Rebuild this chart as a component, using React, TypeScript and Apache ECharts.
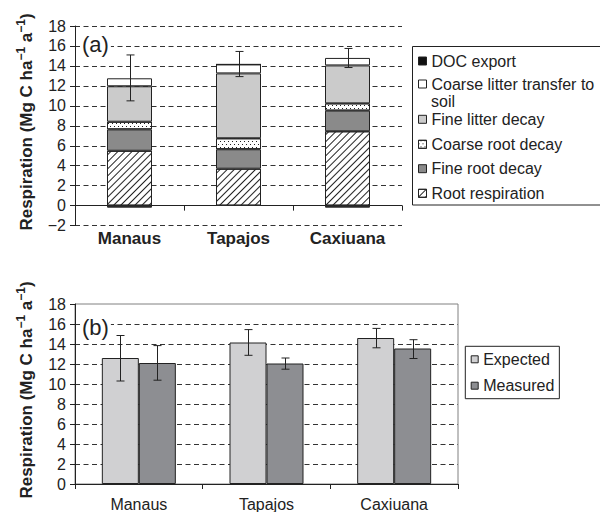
import React, { useEffect, useRef } from 'react';
import * as echarts from 'echarts';

// ---- Data: panel (a) partitioned respiration ----
const sites = ['Manaus', 'Tapajos', 'Caxiuana'];
const rootRespiration = [5.5, 3.7, 7.45];
const fineRootDecay = [2.14, 1.95, 2.07];
const coarseRootDecay = [0.77, 1.1, 0.73];
const fineLitterDecay = [3.55, 6.5, 3.8];
const coarseLitterTransfer = [0.8, 0.9, 0.75];
const docExport = [-0.2, 0, -0.2];
const totalLow = [10.5, 12.93, 13.84];
const totalHigh = [15.1, 15.45, 15.75];

// ---- Data: panel (b) expected vs measured ----
const expected = [12.6, 14.15, 14.6];
const measured = [12.1, 12.05, 13.55];
const expectedLow = [10.3, 12.87, 13.62];
const expectedHigh = [14.85, 15.44, 15.56];
const measuredLow = [10.38, 11.48, 12.55];
const measuredHigh = [13.84, 12.6, 14.43];

const legendNamesA = [
  'DOC export',
  'Coarse litter transfer to soil',
  'Fine litter decay',
  'Coarse root decay',
  'Fine root decay',
  'Root respiration',
];
const legendNamesB = ['Expected', 'Measured'];

const FONT = "'Liberation Sans', Arial, Helvetica, sans-serif";
const INK = '#222';

const hatchDecal = {
  symbol: 'rect',
  symbolSize: 1,
  dashArrayX: [1, 0],
  dashArrayY: [1, 3.5],
  rotation: -Math.PI / 4,
  color: INK,
};
const dotDecal = {
  symbol: 'rect',
  symbolSize: 1,
  dashArrayX: [[1, 3], [0, 2, 1, 1]],
  dashArrayY: [1, 2],
  color: INK,
};

function errSeries(name: string, xi: number, yi: number, low: number[], high: number[], offset: number) {
  return {
    type: 'custom',
    name,
    xAxisIndex: xi,
    yAxisIndex: yi,
    z: 10,
    data: low.map((l, i) => [i, l, high[i]]),
    encode: { x: 0, y: [1, 2] },
    renderItem: (params: any, api: any) => {
      const lo = api.coord([api.value(0), api.value(1)]);
      const hi = api.coord([api.value(0), api.value(2)]);
      const x = Math.round(lo[0] + offset) + 0.5;
      const style = { stroke: INK, lineWidth: 1 };
      return {
        type: 'group',
        children: [
          { type: 'line', shape: { x1: x, y1: hi[1], x2: x, y2: lo[1] }, style },
          { type: 'line', shape: { x1: x - 4, y1: hi[1], x2: x + 4, y2: hi[1] }, style },
          { type: 'line', shape: { x1: x - 4, y1: lo[1], x2: x + 4, y2: lo[1] }, style },
        ],
      };
    },
  };
}

function stackBar(name: string, data: number[], color: string, decal?: any) {
  return {
    type: 'bar',
    name,
    stack: 'a',
    xAxisIndex: 0,
    yAxisIndex: 0,
    barWidth: 45,
    data,
    itemStyle: { color, borderColor: INK, borderWidth: 1, decal },
  };
}

const yTitle = '{b|Respiration (Mg C ha}{s|−1}{b| a}{s|−1}{b|)}';
const yTitleRich = {
  b: { fontSize: 17, fontWeight: 'bold', fontFamily: FONT, fill: INK, lineHeight: 22 },
  s: { fontSize: 12, fontWeight: 'bold', fontFamily: FONT, fill: INK, lineHeight: 22, verticalAlign: 'top' },
};

export default function App() {
  const ref = useRef<HTMLDivElement>(null);
  useEffect(() => {
    if (!ref.current) return;
    const chart = echarts.init(ref.current, undefined, { renderer: 'svg' });

    const legendCentersA = [60, 83, 118.3, 143.3, 167.7, 192.3];
    const legendsA = legendNamesA.map((name, i) => ({
      data: [name],
      orient: 'vertical',
      left: 418,
      top: legendCentersA[i] - 7,
      padding: 0,
      itemWidth: 8,
      itemHeight: 8,
      icon: 'rect',
      selectedMode: false,
      itemStyle: { borderColor: INK, borderWidth: 1 },
      // the long name wraps: its second line ("soil") is drawn just below it
      formatter: (n: string) => (n === 'Coarse litter transfer to soil' ? 'Coarse litter transfer to' : n),
      textStyle: { fontSize: 16, fontFamily: FONT, color: INK, lineHeight: 14 },
    }));

    const option: any = {
      animation: false,
      backgroundColor: '#fff',
      grid: [
        { left: 75, top: 26, width: 327, height: 199.6, show: false },
        { left: 75, top: 304, width: 383, height: 185, show: true, borderColor: '#808080', borderWidth: 1, backgroundColor: 'transparent' },
      ],
      xAxis: [
        {
          type: 'category',
          gridIndex: 0,
          data: sites,
          axisLine: { onZero: true, lineStyle: { color: INK, width: 1 } },
          axisTick: { show: true, length: 5, lineStyle: { color: INK } },
          axisLabel: { fontSize: 17, fontWeight: 'bold', fontFamily: FONT, color: INK, margin: 4 },
        },
        {
          type: 'category',
          gridIndex: 1,
          data: sites,
          axisLine: { lineStyle: { color: INK, width: 1 } },
          axisTick: { show: true, length: 5, lineStyle: { color: INK } },
          axisLabel: { fontSize: 16, fontFamily: FONT, color: INK, margin: 12 },
        },
      ],
      yAxis: [
        {
          type: 'value',
          gridIndex: 0,
          min: -2,
          max: 18,
          interval: 2,
          axisLine: { show: true, lineStyle: { color: INK, width: 1 } },
          axisTick: { show: true, length: 5, lineStyle: { color: INK } },
          axisLabel: {
            fontSize: 16,
            fontFamily: FONT,
            color: INK,
            margin: 9,
            formatter: (v: number) => (v < 0 ? '−' + Math.abs(v) : String(v)),
          },
          splitLine: { show: true, lineStyle: { color: '#333', type: [5, 3.5], width: 1 } },
        },
        {
          type: 'value',
          gridIndex: 1,
          min: 0,
          max: 18,
          interval: 2,
          axisLine: { show: true, lineStyle: { color: INK, width: 1 } },
          axisTick: { show: true, length: 5, lineStyle: { color: INK } },
          axisLabel: { fontSize: 16, fontFamily: FONT, color: INK, margin: 9 },
          splitLine: { show: true, showMinLine: false, showMaxLine: false, lineStyle: { color: '#333', type: [5, 3.5], width: 1 } },
        },
      ],
      legend: [
        ...legendsA,
        {
          data: legendNamesB,
          orient: 'vertical',
          left: 465.3,
          top: 346.3,
          padding: [5, 5, 5, 5.4],
          itemGap: 10.4,
          itemWidth: 7,
          itemHeight: 7,
          icon: 'rect',
          selectedMode: false,
          borderColor: INK,
          borderWidth: 1,
          itemStyle: { borderColor: INK, borderWidth: 1 },
          textStyle: { fontSize: 16, fontFamily: FONT, color: INK, lineHeight: 16 },
        },
      ],
      graphic: [
        { type: 'rect', shape: { x: 412.5, y: 46.5, width: 200, height: 158.5 }, style: { fill: 'none', stroke: INK, lineWidth: 1 }, z: 1 },
        {
          type: 'text', x: 431, y: 101.5,
          style: { text: 'soil', fontSize: 16, lineHeight: 14, fontFamily: FONT, fill: INK, verticalAlign: 'middle', align: 'left' },
        },
        {
          type: 'text', x: 26, y: 122, rotation: Math.PI / 2,
          style: { text: yTitle, rich: yTitleRich, align: 'center', verticalAlign: 'middle' },
        },
        {
          type: 'text', x: 26, y: 390, rotation: Math.PI / 2,
          style: { text: yTitle, rich: yTitleRich, align: 'center', verticalAlign: 'middle' },
        },
        {
          type: 'text', left: 80, top: 33, z: 20,
          style: { text: '(a)', fontSize: 22, fontFamily: FONT, fill: INK, backgroundColor: '#fff', padding: [0, 2, 0, 2] },
        },
        {
          type: 'text', left: 80, top: 316, z: 20,
          style: { text: '(b)', fontSize: 22, fontFamily: FONT, fill: INK, backgroundColor: '#fff', padding: [0, 2, 0, 2] },
        },
      ],
      series: [
        stackBar('Root respiration', rootRespiration, '#fff', hatchDecal),
        stackBar('Fine root decay', fineRootDecay, '#8a8a8a'),
        stackBar('Coarse root decay', coarseRootDecay, '#fff', dotDecal),
        stackBar('Fine litter decay', fineLitterDecay, '#cbcbcb'),
        stackBar('Coarse litter transfer to soil', coarseLitterTransfer, '#fff'),
        stackBar('DOC export', docExport, '#111'),
        errSeries('Total error', 0, 0, totalLow, totalHigh, 0),
        {
          type: 'bar', name: 'Expected', xAxisIndex: 1, yAxisIndex: 1, barWidth: 37, barGap: '0%',
          data: expected, itemStyle: { color: '#d0d0d2', borderColor: INK, borderWidth: 1 },
        },
        {
          type: 'bar', name: 'Measured', xAxisIndex: 1, yAxisIndex: 1, barWidth: 37, barGap: '0%',
          data: measured, itemStyle: { color: '#8d8e92', borderColor: INK, borderWidth: 1 },
        },
        errSeries('Expected error', 1, 1, expectedLow, expectedHigh, -18.5),
        errSeries('Measured error', 1, 1, measuredLow, measuredHigh, 18.5),
      ],
    };
    chart.setOption(option);
    return () => chart.dispose();
  }, []);
  return <div ref={ref} style={{ position: 'absolute', left: 0, top: 0, width: 600, height: 512 }} />;
}
